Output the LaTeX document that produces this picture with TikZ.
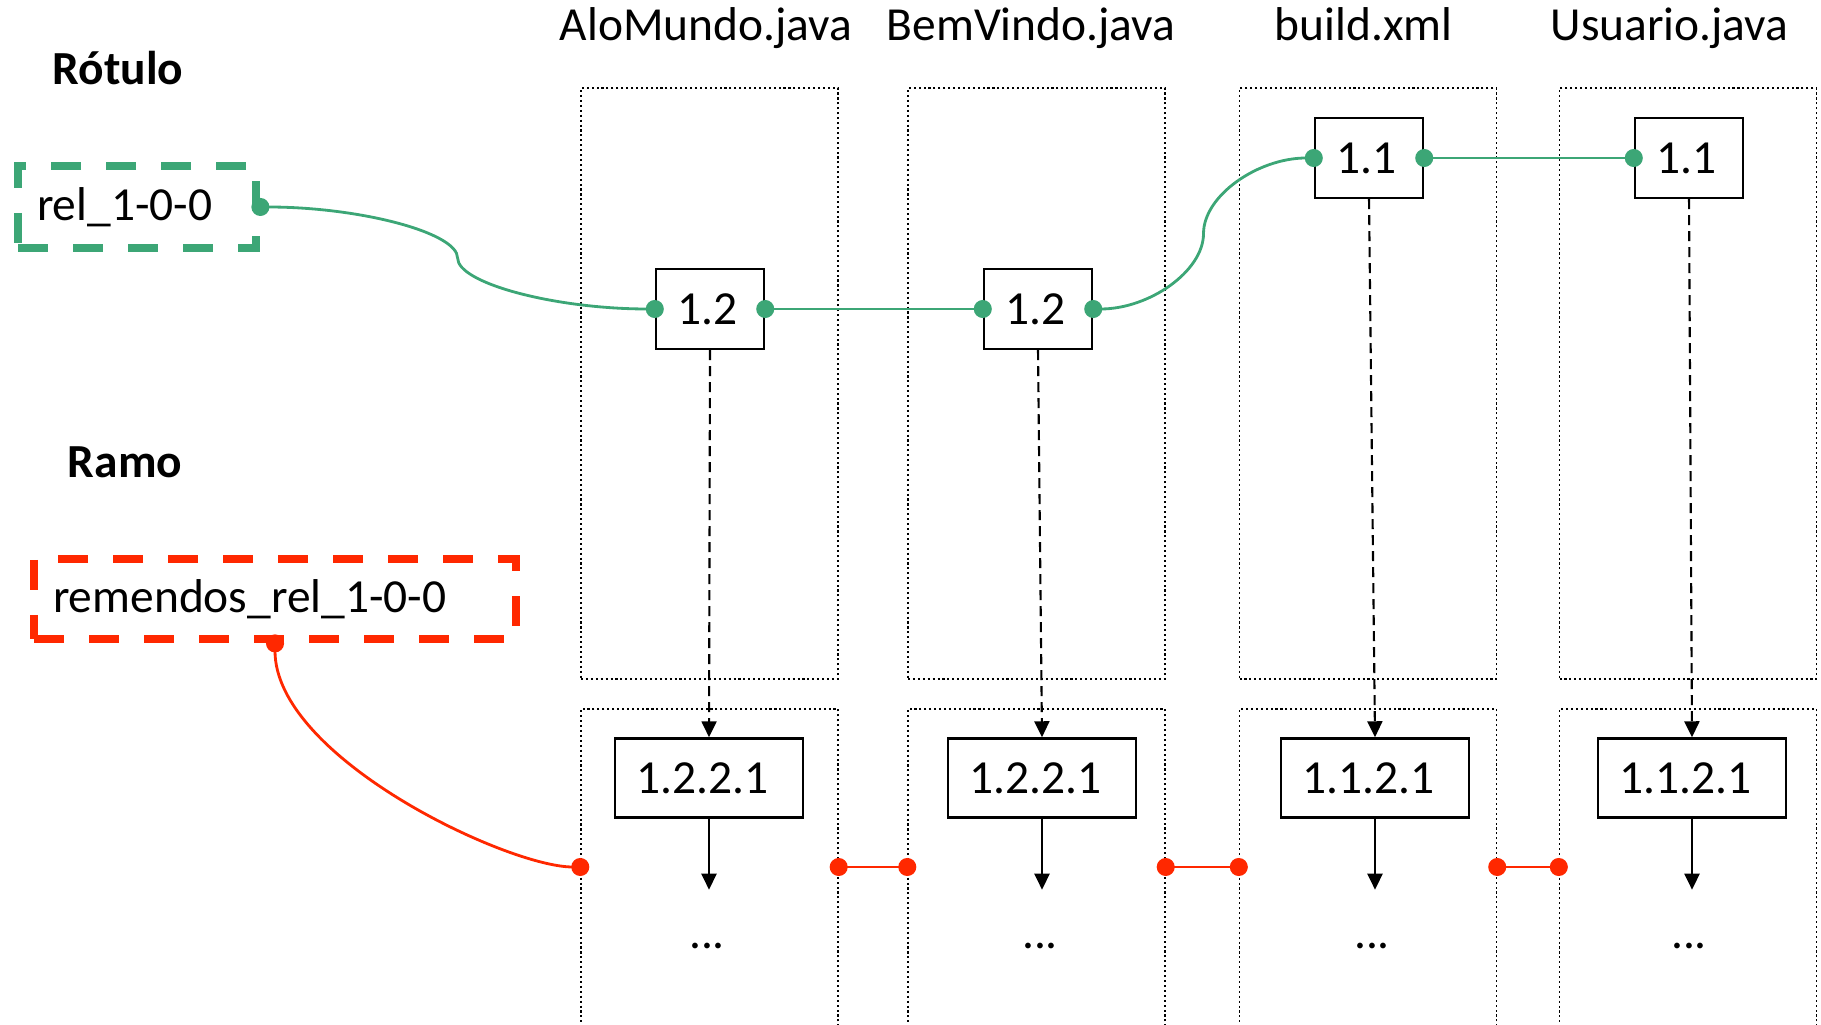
\documentclass[tikz,border=0pt]{standalone}
\usepackage{fontspec}
\setmainfont{Carlito}
\usepackage{tikz}
\usetikzlibrary{positioning, arrows.meta, calc}

\definecolor{rotulogreen}{RGB}{60,166,118}
\definecolor{ramored}{RGB}{255,40,0}

\begin{document}
\begin{tikzpicture}[x=0.1mm, y=0.1mm, font=\fontsize{13.5}{16}\selectfont]
    \tikzstyle{colbox} = [rectangle, draw, line width=0.4pt, dash pattern=on 0.6pt off 0.8pt, minimum width=25.7mm, inner sep=0pt]
    \tikzstyle{versionblock} = [rectangle, draw, line width=0.7pt, fill=white, text width=6.6mm, align=left, inner xsep=2.1mm, inner ysep=0pt, minimum height=8mm]
    \tikzstyle{patchblock} = [rectangle, draw, line width=0.7pt, fill=white, text width=14.6mm, align=left, inner xsep=2.1mm, inner ysep=0pt, minimum height=7.9mm]
    \tikzstyle{tagblock} = [rectangle, draw=rotulogreen, line width=2.5pt, dash pattern=on 3mm off 2.5mm, text width=20mm, align=left, inner xsep=1.9mm, minimum height=8.2mm]
    \tikzstyle{branchblock} = [rectangle, draw=ramored, line width=2.5pt, dash pattern=on 3mm off 2.5mm, text width=44.4mm, align=left, inner xsep=1.9mm, minimum height=8mm]
    \tikzstyle{dasharrow} = [line width=0.6pt, dash pattern=on 1mm off 0.6mm, -{Triangle[length=1.6mm, width=1.5mm]}]
    \tikzstyle{solidarrow} = [line width=0.6pt, -{Triangle[length=1.6mm, width=1.5mm]}]
    \tikzstyle{rellink} = [draw=rotulogreen, line width=0.8pt, {Circle[length=1.8mm]}-{Circle[length=1.8mm]}, shorten <=-0.9mm, shorten >=-0.9mm]
    \tikzstyle{ramolink} = [draw=ramored, line width=0.8pt, {Circle[length=1.8mm]}-{Circle[length=1.8mm]}, shorten <=-0.9mm, shorten >=-0.9mm]

    \useasboundingbox (0,0) rectangle (1821,-1025);
    \clip (0,0) rectangle (1821,-1025);

    \node [colbox, minimum height=59.1mm] (upA) at (709.5,-383.5) {};
    \node [colbox, minimum height=59.1mm] (upB) at (1036.5,-383.5) {};
    \node [colbox, minimum height=59.1mm] (upC) at (1368,-383.5) {};
    \node [colbox, minimum height=59.1mm] (upD) at (1688,-383.5) {};
    \node [colbox, minimum height=33.1mm] (lowA) at (709.5,-874.5) {};
    \node [colbox, minimum height=33.1mm] (lowB) at (1036.5,-874.5) {};
    \node [colbox, minimum height=33.1mm] (lowC) at (1368,-874.5) {};
    \node [colbox, minimum height=33.1mm] (lowD) at (1688,-874.5) {};

    \node [anchor=base] (hA) at (706,-41) {AloMundo.java};
    \node [anchor=base] (hB) at (1031,-41) {BemVindo.java};
    \node [anchor=base] (hC) at (1363.5,-41) {build.xml};
    \node [anchor=base] (hD) at (1669.5,-41) {Usuario.java};

    \node [anchor=base, font=\fontsize{13.5}{16}\selectfont\bfseries] (rotulo) at (118,-85) {Rótulo};
    \node [anchor=base, font=\fontsize{13.5}{16}\selectfont\bfseries] (ramo) at (125,-478) {Ramo};

    \node [tagblock] (rel) at (137,-207) {rel\_1-0-0};
    \node [branchblock] (remendos) at (275,-599) {remendos\_rel\_1-0-0};

    \node [versionblock] (vA) at (710,-309) {1.2};
    \node [versionblock] (vB) at (1038,-309) {1.2};
    \node [versionblock] (vC) at (1369,-158) {1.1};
    \node [versionblock] (vD) at (1689,-158) {1.1};

    \node [patchblock] (pA) at (709,-778) {1.2.2.1};
    \node [patchblock] (pB) at (1042,-778) {1.2.2.1};
    \node [patchblock] (pC) at (1375,-778) {1.1.2.1};
    \node [patchblock] (pD) at (1692,-778) {1.1.2.1};

    \coordinate [below=7.1mm of pA.south] (endA);
    \coordinate [below=7.1mm of pB.south] (endB);
    \coordinate [below=7.1mm of pC.south] (endC);
    \coordinate [below=7.1mm of pD.south] (endD);

    \node [anchor=base] (moreA) at (707,-948) {...};
    \node [anchor=base] (moreB) at (1040,-948) {...};
    \node [anchor=base] (moreC) at (1372,-948) {...};
    \node [anchor=base] (moreD) at (1689,-948) {...};

    \draw [dasharrow] (vA.south) -- (pA.north);
    \draw [dasharrow] (vB.south) -- (pB.north);
    \draw [dasharrow] (vC.south) -- (pC.north);
    \draw [dasharrow] (vD.south) -- (pD.north);

    \draw [solidarrow] (pA.south) -- (endA);
    \draw [solidarrow] (pB.south) -- (endB);
    \draw [solidarrow] (pC.south) -- (endC);
    \draw [solidarrow] (pD.south) -- (endD);

    \coordinate (m1) at ($(rel.east)!0.5!(vA.west)$);
    \coordinate (m2) at ($(vB.east)!0.5!(vC.west)$);
    \draw [rellink] (rel.east) .. controls +(99,0) and +(0,25.5) .. (m1) .. controls +(0,-25.5) and +(-99,0) .. (vA.west);
    \draw [rellink] (vA.east) -- (vB.west);
    \draw [rellink] (vB.east) .. controls +(56,0) and +(0,-37.75) .. (m2) .. controls +(0,37.75) and +(-56,0) .. (vC.west);
    \draw [rellink] (vC.east) -- (vD.west);

    \coordinate (ramoline) at (0,-867);
    \draw [ramolink] (remendos.south) .. controls +(0,-114) and +(-73,0) .. (lowA.west |- ramoline);
    \draw [ramolink] (lowA.east |- ramoline) -- (lowB.west |- ramoline);
    \draw [ramolink] (lowB.east |- ramoline) -- (lowC.west |- ramoline);
    \draw [ramolink] (lowC.east |- ramoline) -- (lowD.west |- ramoline);
\end{tikzpicture}
\end{document}
